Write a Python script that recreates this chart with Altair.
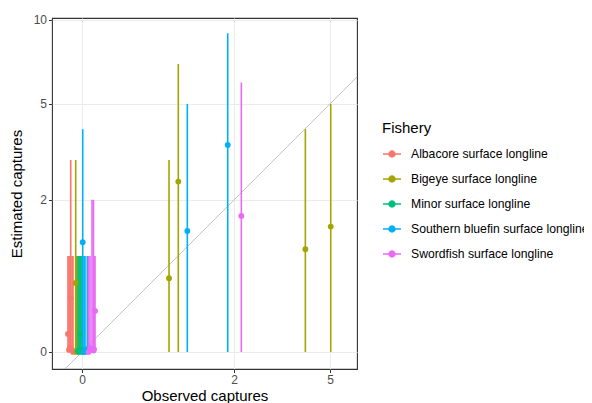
import altair as alt
import pandas as pd

# ---- data ----
fishery_names = [
    "Albacore surface longline",
    "Bigeye surface longline",
    "Minor surface longline",
    "Southern bluefin surface longline",
    "Swordfish surface longline",
]
colors = ["#F8766D", "#A3A500", "#00BF7D", "#00B0F6", "#E76BF3"]

fishery = (
    ["Albacore surface longline"] * 6
    + ["Bigeye surface longline"] * 7
    + ["Minor surface longline"] * 5
    + ["Southern bluefin surface longline"] * 6
    + ["Swordfish surface longline"] * 7
)
observed = [
    -0.1065, -0.0985, -0.085, -0.075, -0.0672, -0.0906,
    -0.0466, -0.0405, -0.0368, 0.875, 1.005, 4.02, 5.03,
    -0.0293, -0.0219, -0.0146, -0.0072, 0.0,
    0.0051, 0.0146, 0.0219, 0.039, 1.14, 1.865,
    0.048, 0.0595, 0.075, 0.0866, 0.0985, 0.0906, 2.161,
]
estimated = [
    0.139, 0.015, 0.477, 0.015, 0.0, 0.03,
    0.646, 0.0, 0.01, 0.703, 2.423, 1.10, 1.473,
    0.01, 0.0, 0.139, 0.02, 0.0,
    1.21, 0.0, 0.0, 0.02, 1.397, 3.462,
    0.0, 0.03, 0.015, 0.01, 0.345, 0.02, 1.672,
]
lower = [0.0] * 31
upper = [
    1, 1, 3, 1, 1, 1,
    3, 1, 1, 3, 7, 4, 5,
    1, 1, 1, 1, 1,
    4, 1, 1, 1, 5, 9,
    1, 1, 2, 2, 1, 1, 6,
]
diag_vals = [-1.0, 12.0]
x_ticks = [0, 2, 5]
y_ticks = [0, 2, 5, 10]

df = pd.DataFrame({
    "Fishery": fishery,
    "observed": observed,
    "estimated": estimated,
    "lower": lower,
    "upper": upper,
})
diag = pd.DataFrame({"x": diag_vals, "y": diag_vals})

FONT = "Liberation Sans"

xscale = alt.Scale(type="symlog", constant=1, domain=[-0.242, 6.29], nice=False, zero=False)
yscale = alt.Scale(type="symlog", constant=1, domain=[-0.131, 10.16], nice=False, zero=False)

legend = alt.Legend(
    title="Fishery",
    orient="none",
    legendX=330,
    legendY=103,
    titleFontSize=15,
    titleFontWeight="normal",
    titleColor="black",
    titleFont=FONT,
    titlePadding=8,
    labelFont=FONT,
    labelFontSize=12.2,
    labelColor="black",
    labelOffset=9,
    labelLimit=400,
    rowPadding=8,
    symbolType="M-1,0L1,0M0.34,0A0.34,0.34,0,1,1,-0.34,0A0.34,0.34,0,1,1,0.34,0Z",
    symbolSize=324,
    symbolStrokeWidth=1.3,
    symbolOpacity=1,
)
cscale = alt.Scale(domain=fishery_names, range=colors)
color = alt.Color("Fishery:N", scale=cscale, legend=legend)
stroke = alt.Stroke("Fishery:N", scale=cscale, legend=legend)

x_axis = alt.Axis(values=x_ticks, title="Observed captures", format="d", titlePadding=3)
y_axis = alt.Axis(values=y_ticks, title="Estimated captures", format="d", titlePadding=9)

diag_line = alt.Chart(diag).mark_line(color="#B3B3B3", strokeWidth=0.8, clip=True).encode(
    x=alt.X("x:Q", scale=xscale, axis=x_axis),
    y=alt.Y("y:Q", scale=yscale, axis=y_axis),
)

rules = alt.Chart(df).mark_rule(strokeWidth=1.6, clip=True).encode(
    x=alt.X("observed:Q", scale=xscale, axis=x_axis),
    y=alt.Y("lower:Q", scale=yscale, axis=y_axis),
    y2="upper:Q",
    stroke=stroke,
)

points = alt.Chart(df).mark_point(filled=True, size=34, opacity=1, strokeWidth=0, clip=True).encode(
    x=alt.X("observed:Q", scale=xscale, axis=x_axis),
    y=alt.Y("estimated:Q", scale=yscale, axis=y_axis),
    color=color,
)

chart = (
    alt.layer(diag_line, rules, points)
    .properties(
        width=305,
        height=351,
        autosize=alt.AutoSizeParams(type="none"),
        padding={"left": 44, "top": 10, "right": 227, "bottom": 34},
    )
    .configure_view(stroke="#333333", strokeWidth=1.1)
    .configure_axis(
        grid=True,
        gridColor="#EBEBEB",
        gridWidth=1,
        domain=False,
        tickColor="#333333",
        tickSize=3.5,
        tickWidth=1,
        labelColor="#4D4D4D",
        labelFontSize=12,
        labelFont=FONT,
        labelPadding=2,
        titleFont=FONT,
        titleFontSize=15,
        titleFontWeight="normal",
        titleColor="black",
    )
)

chart.save("out.html", embed_options={"renderer": "svg", "actions": False})
